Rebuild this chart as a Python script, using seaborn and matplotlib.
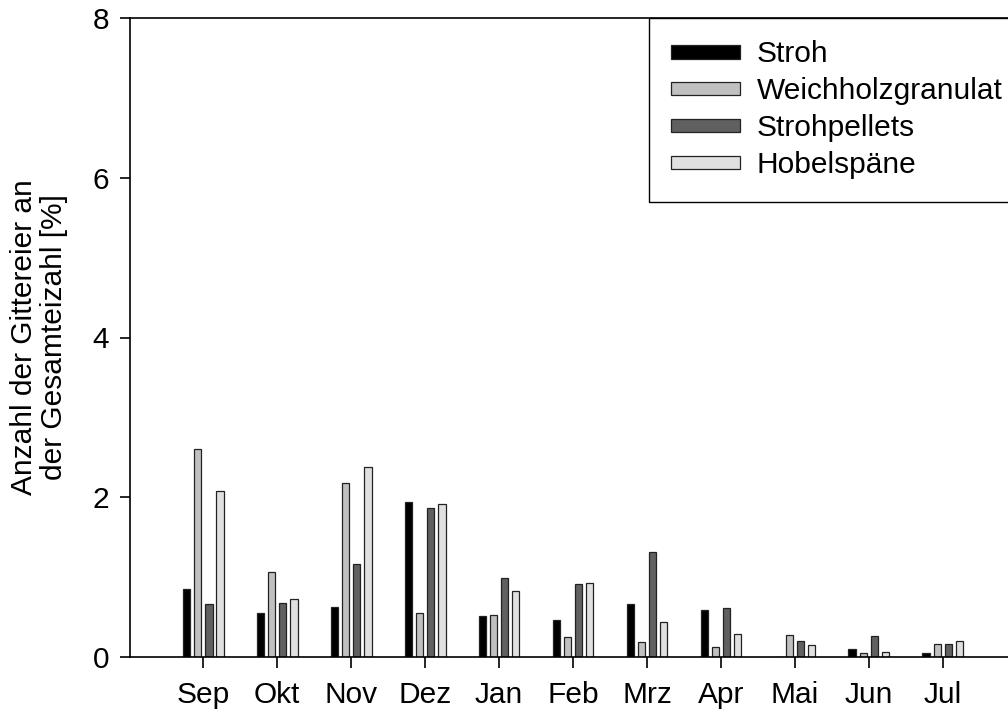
import matplotlib
matplotlib.use("Agg")
import matplotlib.pyplot as plt
import seaborn as sns
import pandas as pd

months = ["Sep", "Okt", "Nov", "Dez", "Jan", "Feb", "Mrz", "Apr", "Mai", "Jun", "Jul"]
series = ["Stroh", "Weichholzgranulat", "Strohpellets", "Hobelspäne"]
stroh = [0.85, 0.55, 0.62, 1.94, 0.51, 0.46, 0.66, 0.59, 0.0, 0.095, 0.05]
weichholz = [2.60, 1.07, 2.18, 0.55, 0.53, 0.25, 0.19, 0.12, 0.28, 0.05, 0.16]
strohpellets = [0.66, 0.68, 1.16, 1.87, 0.99, 0.92, 1.31, 0.61, 0.20, 0.26, 0.16]
hobel = [2.08, 0.72, 2.38, 1.92, 0.83, 0.93, 0.44, 0.29, 0.145, 0.06, 0.20]
colors = ["#000000", "#c0c0c0", "#606060", "#e0e0e0"]
yticks = [0, 2, 4, 6, 8]

values = [stroh, weichholz, strohpellets, hobel]
rows = []
for s, vals in zip(series, values):
    for m, v in zip(months, vals):
        rows.append({"Monat": m, "Einstreu": s, "Wert": v})
df = pd.DataFrame(rows)

sns.set_style("ticks")
plt.rcParams["font.family"] = ["Liberation Sans", "DejaVu Sans"]
plt.rcParams["font.size"] = 21.5
plt.rcParams["text.color"] = "black"
plt.rcParams["axes.labelcolor"] = "black"
plt.rcParams["xtick.color"] = "black"
plt.rcParams["ytick.color"] = "black"

fig = plt.figure(figsize=(10.08, 7.15), dpi=100)
ax = fig.add_axes([130 / 1008, 58 / 715, (1090 - 130) / 1008, (657 - 18) / 715])

sns.barplot(data=df, x="Monat", y="Wert", hue="Einstreu", order=months,
            hue_order=series, palette=colors, width=0.6, gap=0.32,
            edgecolor="#222222", linewidth=0.9, saturation=1, ax=ax,
            errorbar=None)

ax.set_xlim(-0.99, 11.99)
ax.set_ylim(0, 8)
ax.set_yticks(yticks)
ax.set_yticklabels([str(t) for t in yticks])
ax.set_xlabel("")
ax.set_ylabel("Anzahl der Gittereier an\nder Gesamteizahl [%]", fontsize=21.5,
              labelpad=18, linespacing=1.05, color="black")

for side in ["left", "bottom", "top", "right"]:
    ax.spines[side].set_visible(True)
    ax.spines[side].set_linewidth(1.2)
    ax.spines[side].set_color("black")

ax.tick_params(axis="y", which="both", direction="out", length=7, width=1.2,
               pad=8, labelsize=21.5, colors="black", labelcolor="black", right=False)
ax.tick_params(axis="x", which="both", direction="out", length=8, width=1.2,
               pad=9, labelsize=21.5, colors="black", labelcolor="black", top=False)

leg = ax.legend(loc="upper left", bbox_to_anchor=(649 / 1008, 1 - 18 / 715),
                bbox_transform=fig.transFigure, borderaxespad=0,
                frameon=True, fancybox=False, edgecolor="black",
                fontsize=21.5, handlelength=2.3, handleheight=0.33,
                handletextpad=0.55, labelspacing=0.3, borderpad=0.75)
leg.get_frame().set_linewidth(1.0)
leg.get_frame().set_alpha(1)
for t in leg.get_texts():
    t.set_color("black")

fig.savefig("out.png", dpi=100)
